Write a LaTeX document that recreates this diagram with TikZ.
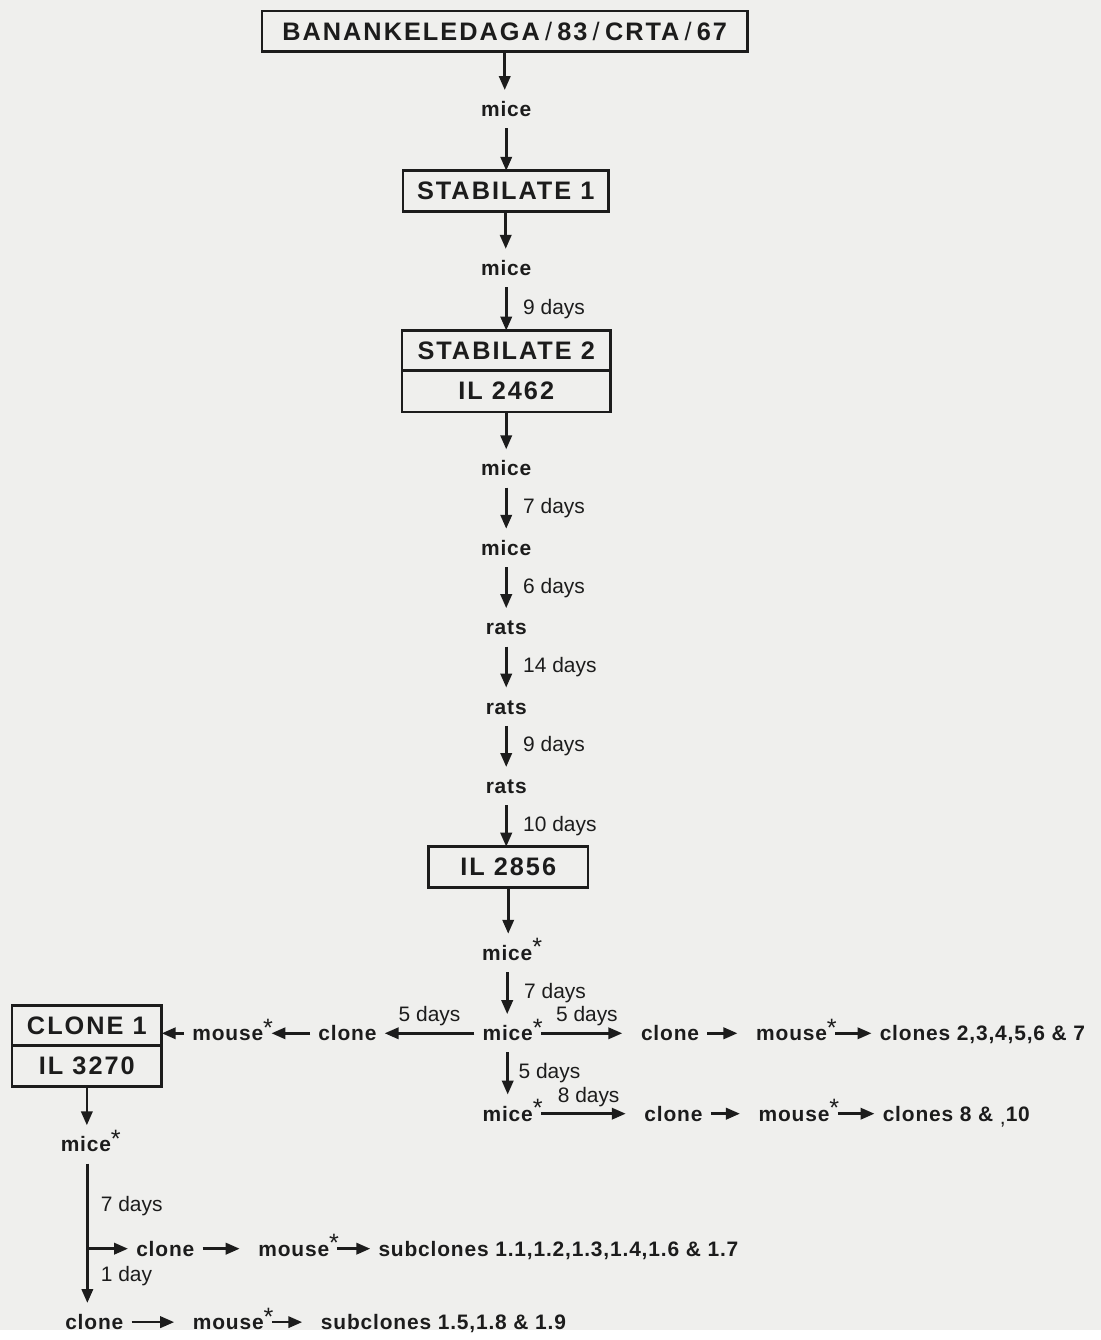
\documentclass[tikz,border=0pt]{standalone}
\usepackage{fontspec}
\setmainfont{Liberation Sans}
\newfontfamily\labfont[LetterSpace=4]{Liberation Sans}
\newfontfamily\boxfont[LetterSpace=8]{Liberation Sans}
\usetikzlibrary{arrows.meta,positioning}
\definecolor{ink}{RGB}{28,28,28}
\definecolor{paper}{RGB}{239,239,237}
\newcommand{\mstar}{\rlap{\raisebox{2.5pt}{\mdseries\Large *}}}
\newcommand{\thinslash}{\kern3pt{\mdseries/}\kern3pt}

\begin{document}
\begin{tikzpicture}[>={Triangle[length=8pt,width=6.5pt]},x=0.02cm,y=-0.02cm,line width=1.5pt,ink,
  stock/.style={draw,line width=1.6pt,inner sep=0pt,outer sep=0pt,minimum height=0.82cm,font=\fontsize{14.5}{16}\boxfont\bfseries},
  host/.style={inner xsep=4pt,inner ysep=6pt,text height=8.5pt,text depth=0pt,font=\fontsize{12}{14}\labfont\bfseries},
  days/.style={right=5pt,inner sep=4pt,font=\fontsize{12}{14}\selectfont},
  toplbl/.style={above,font=\fontsize{12}{14}\selectfont},
  hop/.style={->},
  farhop/.style={->,shorten >=6pt}]
  \fill[paper] (0,0) rectangle (1109,1340);
  \node[stock,minimum width=9.78cm] (src) at (508.5,31.5) {BANANKELEDAGA\thinslash 83\thinslash CRTA\thinslash 67};
  \node[stock,minimum width=4.14cm] (stab1) at (509.5,192.5) {STABILATE 1};
  \node[stock,minimum width=4.2cm,minimum height=0.8cm] (stab2) at (510,353) {STABILATE 2};
  \node[stock,minimum width=4.2cm,minimum height=0.84cm,below=0pt of stab2] (il2462) {IL 2462};
  \node[stock,minimum width=3.22cm] (il2856) at (512,873.5) {IL 2856};
  \node[stock,minimum width=3.02cm,minimum height=0.8cm] (clone1) at (87.5,1033) {CLONE 1};
  \node[stock,minimum width=3.02cm,minimum height=0.84cm,below=0pt of clone1] (il3270) {IL 3270};

  \foreach \n/\y/\t in {m1/110/mice,m2/270/mice,m3/472/mice,m4/552/mice,r1/632/rats,r2/712/rats,r3/792/rats}
    \node[host] (\n) at (510,\y) {\t};
  \node[host] (m5) at (511,960) {mice\mstar};
  \node[host] (m6) at (511.5,1041) {mice\mstar};
  \node[host] (m7) at (511.5,1122) {mice\mstar};
  \node[host] (m8) at (86.5,1153) {mice\mstar};

  \foreach \a/\b in {src/m1,m1/stab1,stab1/m2,il2462/m3,il2856/m5}
    \draw[->] (\a.south) -- (\a.south |- \b.north);
  \foreach \a/\b/\lbl in {m2/stab2/9 days,m3/m4/7 days,m4/r1/6 days,r1/r2/14 days,r2/r3/9 days,r3/il2856/10 days,m5/m6/7 days}
    \draw[->] (\a.south) -- node[days]{\lbl} (\a.south |- \b.north);
  \draw[->] (m6.south) -- node[days,right=1.5pt]{5 days} (m6.south |- m7.north);

  \node[host] (clL) at (350,1041) {clone};
  \node[host] (msL) at (229.5,1041) {mouse\mstar};
  \draw[->] (m6.west) -- node[toplbl]{5 days} (clL.east);
  \draw[->] (clL) -- (msL);
  \draw[->] (msL.west) -- (msL.west -| clone1.east);

  \node[host] (clA) at (675,1041) {clone};
  \node[host] (msA) at (797.5,1041) {mouse\mstar};
  \node[host,anchor=west] (cloA) at (878,1041) {clones 2,3,4,5,6 \& 7};
  \draw[farhop] (m6.east) -- node[toplbl]{5 days} (clA.west);
  \draw[farhop] (clA) -- (msA);
  \draw[hop] (msA) -- (cloA);

  \node[host] (clB) at (678.5,1122) {clone};
  \node[host] (msB) at (800,1122) {mouse\mstar};
  \node[host,anchor=west] (cloB) at (881,1122) {clones 8 \& \raisebox{-2pt}{\mdseries,}10};
  \draw[farhop] (m7.east) -- node[toplbl]{8 days} (clB.west);
  \draw[farhop] (clB) -- (msB);
  \draw[hop] (msB) -- (cloB);

  \draw[->] (il3270.south) -- (il3270.south |- m8.north);
  \coordinate (fork) at (88,1258);
  \node[host] (clC) at (166.5,1258) {clone};
  \node[host] (msC) at (296,1258) {mouse\mstar};
  \node[host,anchor=west] (subC) at (373,1258) {subclones 1.1,1.2,1.3,1.4,1.6 \& 1.7};
  \node[host] (clD) at (95,1332) {clone};
  \node[host] (msD) at (230,1332) {mouse\mstar};
  \node[host,anchor=west] (subD) at (315,1332) {subclones 1.5,1.8 \& 1.9};
  \draw (fork |- m8.south) -- node[days,right=3pt]{7 days} (fork);
  \draw[->] (fork) -- node[days,right=3pt]{1 day} (fork |- clD.north);
  \draw[hop] (fork) -- (clC);
  \draw[farhop] (clC) -- (msC);
  \draw[hop] (msC) -- (subC);
  \draw[farhop] (clD) -- (msD);
  \draw[farhop] (msD) -- (subD);
\end{tikzpicture}
\end{document}
